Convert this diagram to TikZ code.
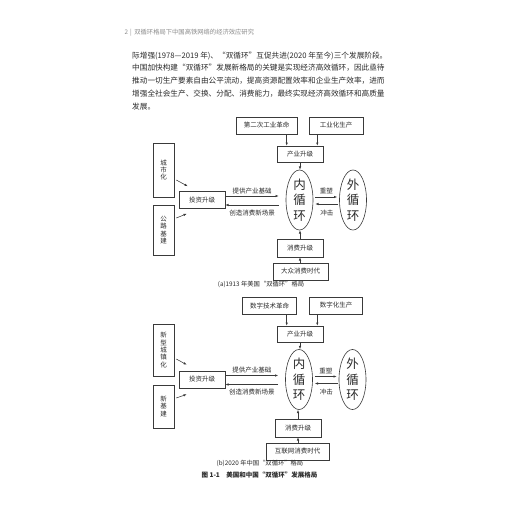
\documentclass[tikz,border=0pt]{standalone}
\usepackage{fontspec}
\setmainfont{Noto Sans CJK SC}
\usetikzlibrary{arrows.meta,shapes.geometric,calc}
\definecolor{ink}{HTML}{2B2B2B}
\definecolor{rulegray}{HTML}{3A3A3A}
\definecolor{headgray}{HTML}{8C8C8C}
\newcommand{\szHead}{\fontsize{6.3}{7}\selectfont}
\newcommand{\szBody}{\fontsize{7.65}{12.75}\selectfont}
\newcommand{\szBox}{\fontsize{6.5}{7.6}\selectfont}
\newcommand{\szVert}{\fontsize{6.5}{7.4}\selectfont}
\newcommand{\szLoop}{\fontsize{12.5}{15.5}\selectfont}
\newcommand{\szCap}{\fontsize{6.3}{7}\selectfont}
\newcommand{\szTitle}{\fontsize{6.5}{7.5}\selectfont\bfseries}

\begin{document}
\begin{tikzpicture}[x=1pt,y=-1pt,>=Latex,text=ink]
  \tikzset{diagbox/.style={draw=rulegray,line width=0.6pt,fill=white,inner sep=0pt,font=\szBox,align=center},
    vertbox/.style={diagbox,font=\szVert,minimum width=21pt},
    loopnode/.style={draw=rulegray,line width=0.6pt,ellipse,inner sep=0pt,minimum width=27pt,minimum height=56pt,align=center,font=\szLoop},
    arrline/.style={draw=rulegray,line width=0.55pt,-{Latex[length=3.2pt,width=2.4pt]}},
    arrlabel/.style={font=\szBox,inner sep=0pt}}
  \useasboundingbox[fill=white] (0,0) rectangle (520,520);
  \node[anchor=west,font=\szHead,text=headgray,inner sep=0pt] (head) at (124.5,33) {2\hspace{2pt}|\hspace{2.5pt}双循环格局下中国高铁网络的经济效应研究};
  \node[anchor=north west,align=left,font=\szBody,inner sep=0pt] (para) at (132,51.5) {际增强(1978—2019 年)、“双循环”互促共进(2020 年至今)三个发展阶段。\\中国加快构建“双循环”发展新格局的关键是实现经济高效循环，因此亟待\\推动一切生产要素自由公平流动，提高资源配置效率和企业生产效率，进而\\增强全社会生产、交换、分配、消费能力，最终实现经济高效循环和高质量\\发展。};

  \node[diagbox,minimum width=61pt,minimum height=17pt] (rev1) at (266.5,125.5) {第二次工业革命};
  \node[diagbox,minimum width=54pt,minimum height=17pt] (ind1) at (336,125.5) {工业化生产};
  \node[diagbox,minimum width=46pt,minimum height=16pt] (upg1) at (300,154) {产业升级};
  \node[loopnode] (inner1) at (299.5,200) {内\\循\\环};
  \node[loopnode] (outer1) at (353,200) {外\\循\\环};
  \node[vertbox,minimum height=54pt] (city1) at (163.5,170) {城\\市\\化};
  \node[vertbox,minimum height=50pt] (road1) at (163.5,230) {公\\路\\基\\建};
  \node[diagbox,minimum width=46pt,minimum height=17pt] (inv1) at (202,200) {投资升级};
  \node[diagbox,minimum width=46pt,minimum height=18pt] (con1) at (300,248) {消费升级};
  \node[diagbox,minimum width=55pt,minimum height=17pt] (era1) at (300.5,271.5) {大众消费时代};
  \node[font=\szCap,inner sep=0pt] (capa) at (261,284.5) {(a)1913 年美国“双循环”格局};
  \coordinate (ta1) at ([xshift=10pt]upg1.north west);
  \coordinate (tb1) at ([xshift=-6pt]upg1.north east);
  \draw[arrline] (rev1.south -| ta1) -- (ta1);
  \draw[arrline] (ind1.south -| tb1) -- (tb1);
  \draw[arrline] (upg1.south) -- (upg1.south |- inner1.north);
  \draw[arrline] (con1.north) -- (con1.north |- inner1.south);
  \draw[arrline] (con1.south |- era1.north) -- (con1.south);
  \draw[arrline] ($(city1.east)+(2,10)$) -- ($(inv1.north west)+(9,-5)$);
  \draw[arrline] ($(road1.east)+(2,-12)$) -- ($(inv1.south west)+(8,5)$);
  \draw[arrline] ([yshift=4pt]inv1.east) -- node[arrlabel,above=2pt] {提供产业基础} ([xshift=-7pt,yshift=4pt]inner1.west);
  \draw[arrline] ([xshift=-7pt,yshift=-5pt]inner1.west) -- node[arrlabel,below=4.5pt] {创造消费新场景} ([yshift=-5pt]inv1.east);
  \draw[arrline] ([xshift=2pt,yshift=3pt]inner1.east) -- node[arrlabel,above=2.5pt] {重塑} ([xshift=-2pt,yshift=3pt]outer1.west);
  \draw[arrline] ([xshift=-1pt,yshift=-4pt]outer1.west) -- node[arrlabel,below=5.5pt] {冲击} ([xshift=2pt,yshift=-4pt]inner1.east);

  \node[diagbox,minimum width=54pt,minimum height=17pt] (rev2) at (269.7,305.5) {数字技术革命};
  \node[diagbox,minimum width=53pt,minimum height=17pt] (ind2) at (336,305.5) {数字化生产};
  \node[diagbox,minimum width=46pt,minimum height=16pt] (upg2) at (300,334) {产业升级};
  \node[loopnode] (inner2) at (299,379.5) {内\\循\\环};
  \node[loopnode] (outer2) at (352.5,379.5) {外\\循\\环};
  \node[vertbox,minimum height=52pt] (city2) at (163.5,350) {新\\型\\城\\镇\\化};
  \node[vertbox,minimum height=43pt] (road2) at (163.5,406.5) {新\\基\\建};
  \node[diagbox,minimum width=46pt,minimum height=17pt] (inv2) at (202,379.5) {投资升级};
  \node[diagbox,minimum width=46pt,minimum height=18pt] (con2) at (298,428) {消费升级};
  \node[diagbox,minimum width=63pt,minimum height=17pt] (era2) at (297.5,451.5) {互联网消费时代};
  \node[font=\szCap,inner sep=0pt] (capb) at (260,463.5) {(b)2020 年中国“双循环”格局};
  \node[font=\szTitle,inner sep=0pt] (title) at (259.5,475) {图 1-1\quad 美国和中国“双循环”发展格局};
  \coordinate (ta2) at ([xshift=10pt]upg2.north west);
  \coordinate (tb2) at ([xshift=-6pt]upg2.north east);
  \draw[arrline] (rev2.south -| ta2) -- (ta2);
  \draw[arrline] (ind2.south -| tb2) -- (tb2);
  \draw[arrline] (upg2.south) -- (upg2.south |- inner2.north);
  \draw[arrline] (con2.north) -- (con2.north |- inner2.south);
  \draw[arrline] (con2.south |- era2.north) -- (con2.south);
  \draw[arrline] ($(city2.east)+(2,9)$) -- ($(inv2.north west)+(8,-6)$);
  \draw[arrline] ($(road2.east)+(2,-8.5)$) -- ($(inv2.south west)+(8,6)$);
  \draw[arrline] ([yshift=4pt]inv2.east) -- node[arrlabel,above=2pt] {提供产业基础} ([xshift=-7pt,yshift=4pt]inner2.west);
  \draw[arrline] ([xshift=-7pt,yshift=-5pt]inner2.west) -- node[arrlabel,below=4.5pt] {创造消费新场景} ([yshift=-5pt]inv2.east);
  \draw[arrline] ([xshift=2pt,yshift=3pt]inner2.east) -- node[arrlabel,above=2.5pt] {重塑} ([xshift=-2pt,yshift=3pt]outer2.west);
  \draw[arrline] ([xshift=-1pt,yshift=-4pt]outer2.west) -- node[arrlabel,below=5.5pt] {冲击} ([xshift=2pt,yshift=-4pt]inner2.east);
\end{tikzpicture}
\end{document}
